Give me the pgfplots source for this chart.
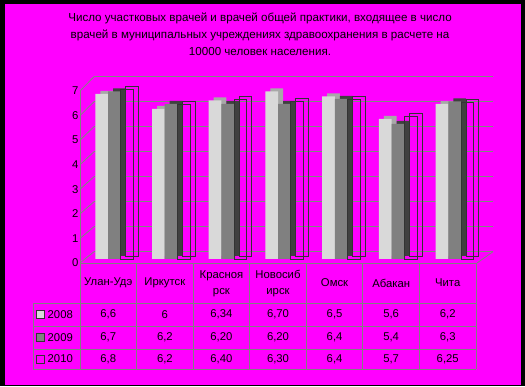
\documentclass[border=0pt]{standalone}
\usepackage{pgfplots}
\pgfplotsset{compat=1.18}
\usepackage{pgfplotstable}
\usepackage{fontspec}
\setmainfont{Liberation Sans}
\definecolor{bg}{RGB}{255,0,255}
\definecolor{gridc}{RGB}{124,140,124}
\definecolor{linec}{RGB}{128,128,128}
\definecolor{c8}{RGB}{217,217,217}
\definecolor{c8top}{RGB}{168,168,168}
\definecolor{c9}{RGB}{128,128,128}
\definecolor{c9side}{RGB}{64,64,64}
\definecolor{c10}{RGB}{51,51,51}

\pgfplotstableread{
x y2008 y2009 y2010
0 6.6  6.7  6.8
1 6.0  6.2  6.2
2 6.34 6.20 6.40
3 6.70 6.20 6.30
4 6.5  6.4  6.4
5 5.6  5.4  5.7
6 6.2  6.3  6.25
}\datatable

\pgfplotsset{
  base/.style={scale only axis, width=397pt, xmin=-0.5, xmax=6.5, ymin=0, ymax=7, clip=false, anchor=south west},
  bars/.style={base, height=175pt, hide axis, ybar, bar width=12.7pt},
}
\newcommand{\tf}{\fontsize{11.3}{16}\selectfont}

\begin{document}
\begin{tikzpicture}[x=1pt,y=1pt]
% background and border
\fill[black] (0,0) rectangle (525,386);
\fill[bg] (5,1.5) rectangle (521,381.5);

% title
\node[align=center, font=\fontsize{11.6}{17}\selectfont] at (260,351.5)
  {Число участковых врачей и врачей общей практики, входящее в число\\
   врачей в муниципальных учреждениях здравоохранения в расчете на\\
   10000 человек населения.};

% back wall
\begin{axis}[base, at={(94pt,134.3pt)}, width=399pt, height=175pt,
  xtick=\empty, ytick={0,...,7}, yticklabels={}, ymajorgrids,
  major grid style={gridc, line width=0.8pt},
  axis line style={draw=none}, tick style={draw=none}]
\addplot[draw=none] coordinates {(0,0)};
\end{axis}

% left wall diagonals and floor
\foreach \k in {0,...,7} {
  \draw[gridc, line width=0.8pt] (80,{123+24.57*\k}) -- (94,{134.3+25*\k});
}
\draw[linec, line width=0.8pt] (477,123) -- (493,134.3);

% back faces of bars
\begin{axis}[bars, at={(91pt,130pt)}]
\addplot[fill=c8top, draw=none, bar shift=-12.7pt] table[x=x,y=y2008]{\datatable};
\addplot[fill=c9side, draw=none, bar shift=0pt] table[x=x,y=y2009]{\datatable};
\addplot[fill=none, draw=c10, line width=0.8pt, bar shift=12.7pt] table[x=x,y=y2010]{\datatable};
\end{axis}

% front faces of bars
\begin{axis}[bars, at={(86pt,127pt)}]
\addplot[fill=c8, draw=none, bar shift=-12.7pt] table[x=x,y=y2008]{\datatable};
\addplot[fill=c9, draw=none, bar shift=0pt] table[x=x,y=y2009]{\datatable};
\addplot[fill=none, draw=c10, line width=0.8pt, bar shift=12.7pt] table[x=x,y=y2010]{\datatable};
\end{axis}

% front axis with tick labels
\begin{axis}[base, at={(80pt,123pt)}, height=172pt,
  xtick=\empty, ytick={0,...,7},
  axis line style={draw=none}, major tick length=0pt,
  /pgf/number format/assume math mode=true,
  yticklabel style={font=\tf, inner sep=1.5pt}]
\addplot[draw=none] coordinates {(0,0)};
\end{axis}

\draw[linec, line width=0.8pt] (80,295) -- (80,17);
\draw[linec, line width=0.8pt] (80,123) -- (477,123);

% data table
\foreach \i in {1,...,7} {
  \draw[linec, line width=0.8pt] ({80+56.57*\i},123) -- ({80+56.57*\i},17);
}
\foreach \yy in {83,60,37,17} {
  \draw[linec, line width=0.8pt] (33,\yy) -- (476,\yy);
}
\draw[linec, line width=0.8pt] (33,83) -- (33,17);

\def\cx#1{80+56.57*#1+28.29}
\begin{scope}[every node/.style={font=\tf, align=center, inner sep=0pt}]
\node at ({\cx{0}},103) {Улан-Удэ};
\node at ({\cx{1}},103) {Иркутск};
\node at ({\cx{2}},102.5) {Красноя\\рск};
\node at ({\cx{3}},102.5) {Новосиб\\ирск};
\node at ({\cx{4}},103) {Омск};
\node at ({\cx{5}},103) {Абакан};
\node at ({\cx{6}},103) {Чита};
% 2008
\node at ({\cx{0}},71.5) {6,6};
\node at ({\cx{1}},71.5) {6};
\node at ({\cx{2}},71.5) {6,34};
\node at ({\cx{3}},71.5) {6,70};
\node at ({\cx{4}},71.5) {6,5};
\node at ({\cx{5}},71.5) {5,6};
\node at ({\cx{6}},71.5) {6,2};
% 2009
\node at ({\cx{0}},48.5) {6,7};
\node at ({\cx{1}},48.5) {6,2};
\node at ({\cx{2}},48.5) {6,20};
\node at ({\cx{3}},48.5) {6,20};
\node at ({\cx{4}},48.5) {6,4};
\node at ({\cx{5}},48.5) {5,4};
\node at ({\cx{6}},48.5) {6,3};
% 2010
\node at ({\cx{0}},27) {6,8};
\node at ({\cx{1}},27) {6,2};
\node at ({\cx{2}},27) {6,40};
\node at ({\cx{3}},27) {6,30};
\node at ({\cx{4}},27) {6,4};
\node at ({\cx{5}},27) {5,7};
\node at ({\cx{6}},27) {6,25};
% legend
\node[anchor=west] at (47.5,71.5) {2008};
\node[anchor=west] at (47.5,48.5) {2009};
\node[anchor=west] at (47.5,27) {2010};
\end{scope}
\draw[c10, fill=c8, line width=0.6pt] (36,67.5) rectangle (44,75.5);
\draw[c10, fill=c9, line width=0.6pt] (36,44.5) rectangle (44,52.5);
\draw[c10, fill=bg, line width=0.6pt] (36,23) rectangle (44,31);
\end{tikzpicture}
\end{document}
